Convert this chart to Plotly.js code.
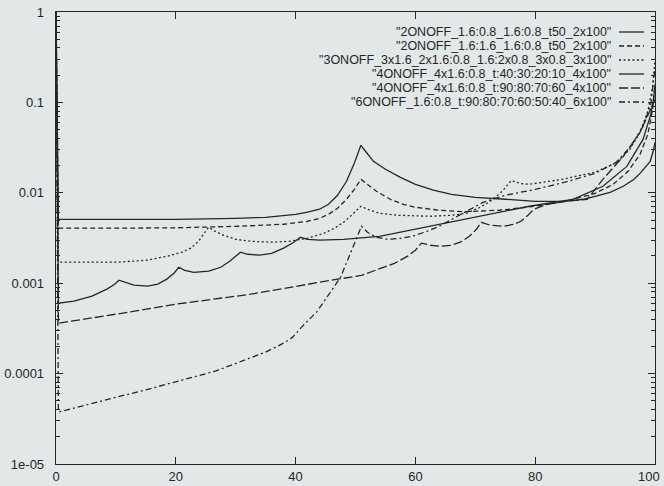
<!DOCTYPE html>
<html>
<head>
<meta charset="utf-8">
<script src="https://cdn.plot.ly/plotly-3.0.1.min.js"></script>
<style>html,body{margin:0;padding:0;background:#e2e8e8;}#chart{width:664px;height:486px;}</style>
</head>
<body>
<div id="chart"></div>
<script>
// Series names (legend text)
const seriesNames = [
  '2ONOFF_1.6:0.8_1.6:0.8_t50_2x100',
  '2ONOFF_1.6:1.6_1.6:0.8_t50_2x100',
  '3ONOFF_3x1.6_2x1.6:0.8_1.6:2x0.8_3x0.8_3x100',
  '4ONOFF_4x1.6:0.8_t:40:30:20:10_4x100',
  '4ONOFF_4x1.6:0.8_t:90:80:70:60_4x100',
  '6ONOFF_1.6:0.8_t:90:80:70:60:50:40_6x100'
];

// Series 1
const xA = [0, 0.4, 10, 20, 30, 35, 40, 42, 44, 45.5, 47, 48.5, 49.8, 50.9, 51.8, 53, 55, 57.5, 60, 63, 66, 70, 75, 80, 85, 88, 90, 92.5, 94.7, 96.5, 97.5, 98.5, 99.2, 99.7, 100];
const yA = [1, 0.00509, 0.00509, 0.00509, 0.00522, 0.00536, 0.00578, 0.00610, 0.00658, 0.00746, 0.00938, 0.0134, 0.0212, 0.0335, 0.0281, 0.0223, 0.0182, 0.0148, 0.0124, 0.0107, 0.00962, 0.00891, 0.00848, 0.00805, 0.00805, 0.00848, 0.00915, 0.0101, 0.0118, 0.0141, 0.0164, 0.0196, 0.0223, 0.0288, 0.0361];
// Series 2
const xB = [0, 0.4, 10, 20, 30.8, 38, 42, 44, 45.5, 47, 48.5, 49.8, 50.9, 52, 53.5, 55.8, 58, 60, 64, 68, 74, 80, 85, 90, 93, 95.5, 97.5, 98.8, 99.6, 100];
const yB = [1, 0.00406, 0.00406, 0.00410, 0.00427, 0.00449, 0.00484, 0.00522, 0.00578, 0.00675, 0.00848, 0.0109, 0.0141, 0.0124, 0.0104, 0.00848, 0.00746, 0.00692, 0.00641, 0.00617, 0.00641, 0.00710, 0.00805, 0.00986, 0.0124, 0.0173, 0.0266, 0.0443, 0.0837, 0.158];
// Series 3
const xC = [0, 0.4, 10.3, 15, 18.6, 21, 22.5, 23.8, 24.7, 25.5, 26.5, 28, 30, 32.5, 36, 39, 42, 44.7, 46.5, 48, 49.5, 50.9, 52, 54, 57, 62.5, 66, 68.5, 70.5, 72.5, 74.5, 76, 77.5, 79, 84.5, 90, 93.7, 95.8, 97.5, 98.8, 99.6, 100];
const yC = [1, 0.00171, 0.00171, 0.00179, 0.00199, 0.00220, 0.00244, 0.00291, 0.00356, 0.00416, 0.00376, 0.00339, 0.00306, 0.00291, 0.00284, 0.00291, 0.00314, 0.00356, 0.00406, 0.00472, 0.00578, 0.00710, 0.00658, 0.00593, 0.00564, 0.00550, 0.00564, 0.00593, 0.00675, 0.00805, 0.0104, 0.0137, 0.0127, 0.0124, 0.0141, 0.0169, 0.0217, 0.0303, 0.0467, 0.0796, 0.147, 0.299];
// Series 4
const xD = [0, 0.4, 3, 6, 8.5, 9.8, 10.5, 11.5, 13, 15.3, 17, 18.5, 19.7, 20.5, 21.5, 23, 25.5, 27.5, 29, 30.8, 32, 34, 36, 38, 39.7, 40.8, 42, 44, 48, 54, 62.5, 70.8, 79, 86.3, 91.3, 95.3, 98, 99.3, 99.8, 100];
const yD = [1, 0.000601, 0.000632, 0.000718, 0.000859, 0.000975, 0.00108, 0.00103, 0.000951, 0.000927, 0.000975, 0.00111, 0.00129, 0.00150, 0.00139, 0.00132, 0.00136, 0.00150, 0.00175, 0.00220, 0.00209, 0.00204, 0.00214, 0.00244, 0.00284, 0.00322, 0.00306, 0.00299, 0.00306, 0.00330, 0.00427, 0.00550, 0.00710, 0.00848, 0.0118, 0.0196, 0.0390, 0.0736, 0.113, 0.158];
// Series 5
const xE = [0, 0.4, 10, 20, 32.5, 40, 46, 51, 54.2, 56.5, 58.7, 60, 61, 62.5, 64.3, 66, 67.5, 69, 70.2, 71, 72.5, 74.8, 76.5, 77.6, 78.8, 79.8, 82, 85, 88.7, 91.3, 94.7, 97.5, 99.5, 100];
const yE = [1, 0.000361, 0.000454, 0.000586, 0.000755, 0.000927, 0.00108, 0.00122, 0.00147, 0.00166, 0.00199, 0.00232, 0.00277, 0.00263, 0.00256, 0.00263, 0.00284, 0.00330, 0.00395, 0.00472, 0.00438, 0.00427, 0.00449, 0.00484, 0.00564, 0.00658, 0.00746, 0.00805, 0.00848, 0.0141, 0.0253, 0.0467, 0.0904, 0.108];
// Series 6
const xF = [0, 0.4, 4.3, 15.5, 26.7, 35, 38, 39.5, 41, 43.5, 45, 47.5, 51, 52, 53.5, 55.3, 57.5, 59.5, 62, 64, 67, 71.3, 75, 80, 85, 90, 93.5, 96, 98, 99.3, 100];
const yF = [1, 3.76e-5, 4.38e-5, 6.75e-5, 0.000107, 0.000173, 0.000217, 0.000253, 0.000327, 0.000479, 0.000665, 0.00116, 0.00427, 0.00366, 0.00322, 0.00306, 0.00314, 0.00330, 0.00376, 0.00427, 0.00550, 0.00785, 0.00938, 0.0109, 0.0131, 0.0164, 0.0217, 0.0327, 0.0543, 0.0951, 0.244];

// Axis ticks
const xTicks = [0, 20, 40, 60, 80, 100];
const xTickText = ['0', '20', '40', '60', '80', '100'];
const yTickVals = [1e-5, 1e-4, 1e-3, 1e-2, 1e-1, 1];
const yTickText = ['1e-05', '0.0001', '0.001', '0.01', '0.1', '1'];

const xs = [xA, xB, xC, xD, xE, xF];
const ys = [yA, yB, yC, yD, yE, yF];
const dashes = ['solid', '5px,3px', '2px,2.5px', 'solid', '9px,3px', '6px,3px,2px,3px'];
const ink = '#262626';

const traces = xs.map((x, i) => ({
  type: 'scatter', mode: 'lines', x: x, y: ys[i], name: seriesNames[i],
  line: {color: ink, width: 1.3, dash: dashes[i]}, showlegend: false
}));

// minor log ticks 2..9 per decade
const minorVals = [];
for (let e = -5; e < 0; e++) for (let m = 2; m <= 9; m++) minorVals.push(m * Math.pow(10, e));

const fontFam = 'Liberation Sans, Arial, sans-serif';
// gnuplot-style key: text right-aligned, sample line to its right
const annotations = [], shapes = [];
const plotTop = 12, plotBottom = 464, plotLeft = 56, plotRight = 655;
const H = plotBottom - plotTop, W = plotRight - plotLeft;
seriesNames.forEach((n, i) => {
  const py = 32 + 14 * i;
  const yp = (plotBottom - py) / H;
  annotations.push({xref: 'paper', yref: 'paper', x: (612 - plotLeft) / W, y: yp, xanchor: 'right', yanchor: 'middle',
    text: '"' + n + '"', showarrow: false, borderpad: 0, font: {family: fontFam, size: 12.5, color: ink}});
  shapes.push({type: 'line', xref: 'paper', yref: 'paper', x0: (619 - plotLeft) / W, x1: (644 - plotLeft) / W, y0: yp, y1: yp,
    line: {color: ink, width: 1.3, dash: dashes[i]}});
});
// last x tick label kept inside the page (as in the reference)
annotations.push({xref: 'x', yref: 'paper', x: xTicks[xTicks.length - 1], y: 0, xanchor: 'right', yanchor: 'top', xshift: 7, yshift: -3,
  text: xTickText[xTickText.length - 1], showarrow: false, font: {family: fontFam, size: 13, color: ink}});
const shownXText = xTickText.map((t, i) => i === xTickText.length - 1 ? '' : t);

const axisFont = {family: fontFam, size: 13, color: ink};
const layout = {
  width: 664, height: 486,
  margin: {l: plotLeft, r: 664 - plotRight, t: plotTop, b: 486 - plotBottom},
  paper_bgcolor: '#e2e8e8', plot_bgcolor: '#e2e8e8',
  showlegend: false,
  xaxis: {range: [0, 100], tickmode: 'array', tickvals: xTicks, ticktext: shownXText, ticks: 'inside', ticklen: 7, tickcolor: ink,
    showline: true, linecolor: ink, linewidth: 1.3, mirror: 'ticks', showgrid: false, zeroline: false, tickfont: axisFont},
  yaxis: {type: 'log', range: [-5, 0], tickmode: 'array', tickvals: yTickVals, ticktext: yTickText, ticks: 'inside', ticklen: 7, tickcolor: ink,
    showline: true, linecolor: ink, linewidth: 1.3, mirror: 'ticks', showgrid: false, zeroline: false, tickfont: axisFont,
    ticklabelstandoff: 8, ticklabeloverflow: 'allow',
    minor: {tickmode: 'array', tickvals: minorVals, ticks: 'inside', ticklen: 4, tickcolor: ink, showgrid: false}},
  annotations: annotations, shapes: shapes
};
Plotly.newPlot('chart', traces, layout, {staticPlot: true});
</script>
</body>
</html>
